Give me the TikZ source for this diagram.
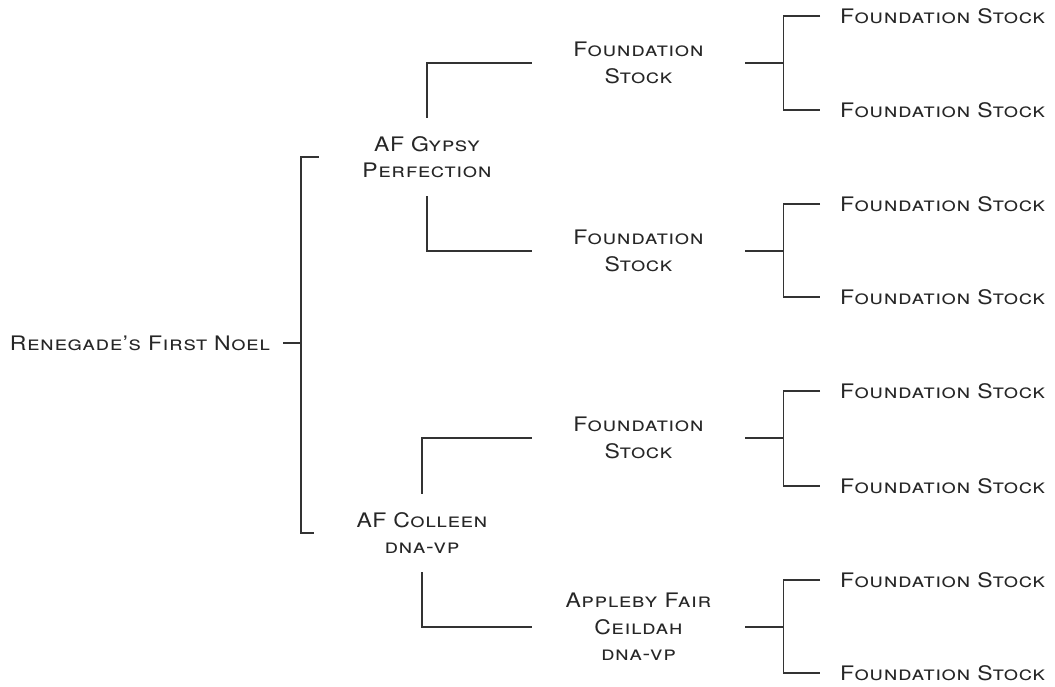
\documentclass[tikz,border=0pt]{standalone}
\usepackage{fontspec}
\setmainfont{TeX Gyre Heros}[FakeStretch=1.15, LetterSpace=3]

\begin{document}
\begin{tikzpicture}[x=1pt,y=-1pt,
    every node/.style={font=\fontsize{20}{26.5}\selectfont\scshape, text=black!85},
    link/.style={line width=1.4pt, draw=black!80},
    parent/.style={minimum width=216pt, minimum height=78pt, inner sep=0pt, align=center},
    grand/.style={minimum width=213pt, inner sep=0pt, align=center},
    great/.style={anchor=west, inner xsep=20pt, inner ysep=0pt}]
  \useasboundingbox (0,0) rectangle (1055,686);

  \node[anchor=east, inner xsep=13pt] (noel) at (283,343) {Renegade's First Noel};

  \node[parent] (gypsy)   at (427,157) {AF Gypsy\\Perfection};
  \node[parent] (colleen) at (422,533) {AF Colleen\\dna-vp};

  \node[grand] (fsa) at (638.5,63)  {Foundation\\Stock};
  \node[grand] (fsb) at (638.5,251) {Foundation\\Stock};
  \node[grand] (fsc) at (638.5,438) {Foundation\\Stock};
  \node[grand] (ceil) at (638.5,627) {Appleby Fair\\Ceildah\\dna-vp};

  \node[great] (g1) at (820,16)  {Foundation Stock};
  \node[great] (g2) at (820,110) {Foundation Stock};
  \node[great] (g3) at (820,204) {Foundation Stock};
  \node[great] (g4) at (820,297) {Foundation Stock};
  \node[great] (g5) at (820,391) {Foundation Stock};
  \node[great] (g6) at (820,486) {Foundation Stock};
  \node[great] (g7) at (820,580) {Foundation Stock};
  \node[great] (g8) at (820,673) {Foundation Stock};

  % root bracket
  \draw[link] (noel.east) -- ++(18,0) coordinate (jn);
  \draw[link] (gypsy.west) -| (jn) |- (colleen.west);

  % parents to grandparents
  \draw[link] (gypsy.north) |- (fsa.west);
  \draw[link] (gypsy.south) |- (fsb.west);
  \draw[link] (colleen.north) |- (fsc.west);
  \draw[link] (colleen.south) |- (ceil.west);

  % grandparents to great-grandparents
  \draw[link] (fsa.east) -- ++(38,0) coordinate (ja);
  \draw[link] (g1.west) -| (ja) |- (g2.west);
  \draw[link] (fsb.east) -- ++(38,0) coordinate (jb);
  \draw[link] (g3.west) -| (jb) |- (g4.west);
  \draw[link] (fsc.east) -- ++(38,0) coordinate (jc);
  \draw[link] (g5.west) -| (jc) |- (g6.west);
  \draw[link] (ceil.east) -- ++(38,0) coordinate (jd);
  \draw[link] (g7.west) -| (jd) |- (g8.west);
\end{tikzpicture}
\end{document}
